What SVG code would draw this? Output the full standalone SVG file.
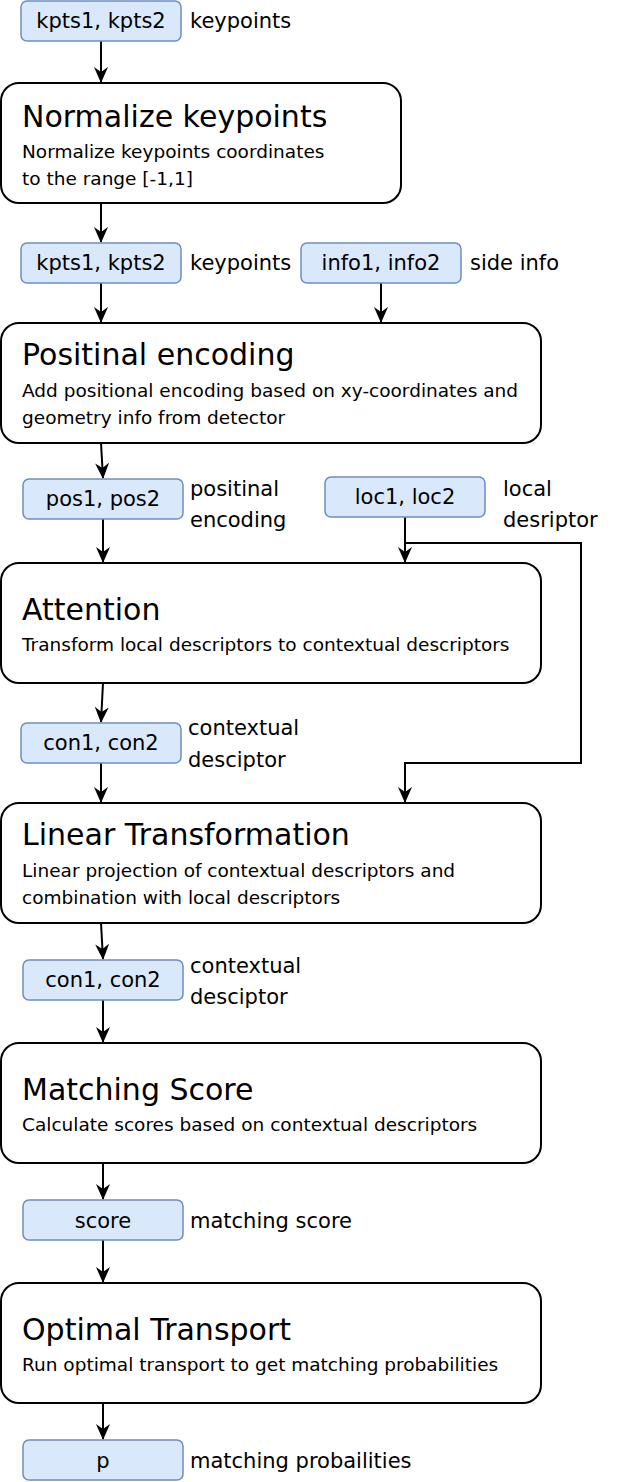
<svg xmlns="http://www.w3.org/2000/svg" width="622" height="1482" viewBox="0 0 622 1482">
<style>
text{font-family:"DejaVu Sans",Verdana,sans-serif;fill:#000}
.d{fill:#dae8fc;stroke:#6c8ebf;stroke-width:1.5}
.b{fill:#fff;stroke:#000;stroke-width:2}
.t{font-size:30px}
.s{font-size:18.5px}
.l{font-size:21px}
.c{font-size:21px;text-anchor:middle}
.e{fill:none;stroke:#000;stroke-width:2;marker-end:url(#a)}
</style>
<defs>
<marker id="a" viewBox="0 0 16 16" refX="15" refY="8" markerWidth="16" markerHeight="16" orient="auto" markerUnits="userSpaceOnUse">
<path d="M0,1 L16,8 L0,15 L5,8 Z" fill="#000"/>
</marker>
</defs>
<g id="connectors">
<path class="e" d="M101,41 V82"/>
<path class="e" d="M101,203 V242"/>
<path class="e" d="M101,283 V322"/>
<path class="e" d="M381,283 V322"/>
<path class="e" d="M101,443 L103,478"/>
<path class="e" d="M103,519 V562"/>
<path class="e" d="M405,517 V562"/>
<path class="e" d="M405,543 H581 V763 H405 V802"/>
<path class="e" d="M103,683 L101,722"/>
<path class="e" d="M101,763 V802"/>
<path class="e" d="M101,923 L103,959"/>
<path class="e" d="M103,1000 V1042"/>
<path class="e" d="M103,1163 V1199"/>
<path class="e" d="M103,1240 V1282"/>
<path class="e" d="M103,1403 V1439"/>
</g>
<g id="in1"><rect class="d" x="21" y="1" width="160" height="40" rx="6"/><text class="c" x="101" y="28">kpts1, kpts2</text><text class="l" x="190" y="28">keypoints</text></g>
<g id="normalize"><rect class="b" x="1" y="83" width="400" height="120" rx="18"/><text class="t" x="22" y="127">Normalize keypoints</text><text class="s" x="22" y="158">Normalize keypoints coordinates</text><text class="s" x="22" y="185">to the range [-1,1]</text></g>
<g id="in2"><rect class="d" x="21" y="243" width="160" height="40" rx="6"/><text class="c" x="101" y="270">kpts1, kpts2</text><text class="l" x="190" y="270">keypoints</text></g>
<g id="info"><rect class="d" x="301" y="243" width="160" height="40" rx="6"/><text class="c" x="381" y="270">info1, info2</text><text class="l" x="470" y="270">side info</text></g>
<g id="posenc"><rect class="b" x="1" y="323" width="540" height="120" rx="18"/><text class="t" x="22" y="365">Positinal encoding</text><text class="s" x="22" y="397">Add positional encoding based on xy-coordinates and</text><text class="s" x="22" y="424">geometry info from detector</text></g>
<g id="pos"><rect class="d" x="23" y="479" width="160" height="40" rx="6"/><text class="c" x="103" y="506">pos1, pos2</text><text class="l" x="190" y="496">positinal</text><text class="l" x="190" y="527">encoding</text></g>
<g id="loc"><rect class="d" x="325" y="477" width="160" height="40" rx="6"/><text class="c" x="405" y="504">loc1, loc2</text><text class="l" x="503" y="496">local</text><text class="l" x="503" y="527">desriptor</text></g>
<g id="attention"><rect class="b" x="1" y="563" width="540" height="120" rx="18"/><text class="t" x="22" y="620">Attention</text><text class="s" x="22" y="651">Transform local descriptors to contextual descriptors</text></g>
<g id="con1"><rect class="d" x="21" y="723" width="160" height="40" rx="6"/><text class="c" x="101" y="750">con1, con2</text><text class="l" x="188" y="735">contextual</text><text class="l" x="188" y="767">desciptor</text></g>
<g id="linear"><rect class="b" x="1" y="803" width="540" height="120" rx="18"/><text class="t" x="22" y="845">Linear Transformation</text><text class="s" x="22" y="877">Linear projection of contextual descriptors and</text><text class="s" x="22" y="904">combination with local descriptors</text></g>
<g id="con2"><rect class="d" x="23" y="960" width="160" height="40" rx="6"/><text class="c" x="103" y="987">con1, con2</text><text class="l" x="190" y="973">contextual</text><text class="l" x="190" y="1004">desciptor</text></g>
<g id="matching"><rect class="b" x="1" y="1043" width="540" height="120" rx="18"/><text class="t" x="22" y="1100">Matching Score</text><text class="s" x="22" y="1131">Calculate scores based on contextual descriptors</text></g>
<g id="score"><rect class="d" x="23" y="1200" width="160" height="40" rx="6"/><text class="c" x="103" y="1228">score</text><text class="l" x="190" y="1228">matching score</text></g>
<g id="ot"><rect class="b" x="1" y="1283" width="540" height="120" rx="18"/><text class="t" x="22" y="1340">Optimal Transport</text><text class="s" x="22" y="1371">Run optimal transport to get matching probabilities</text></g>
<g id="p"><rect class="d" x="23" y="1440" width="160" height="40" rx="6"/><text class="c" x="103" y="1468">p</text><text class="l" x="190" y="1468">matching probailities</text></g>
</svg>
